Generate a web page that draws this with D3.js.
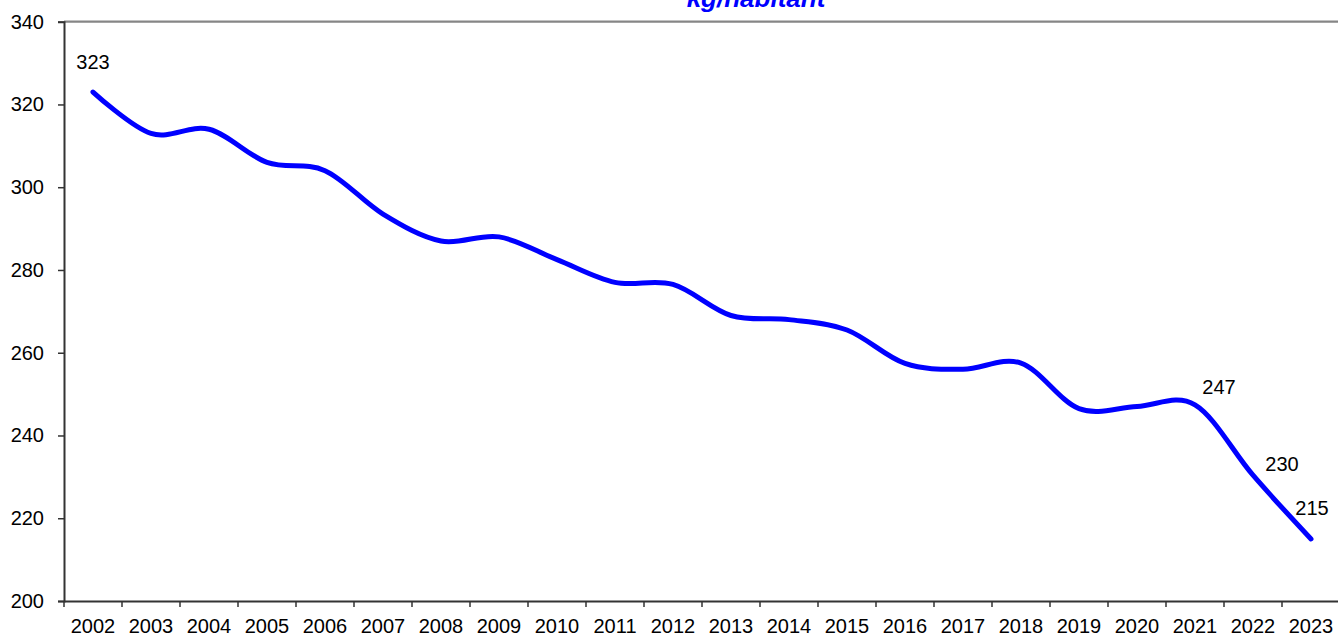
<!DOCTYPE html>
<html>
<head>
<meta charset="utf-8">
<script src="https://cdn.jsdelivr.net/npm/d3@7"></script>
<style>
  html, body { margin: 0; padding: 0; background: #fff; }
  svg { display: block; }
</style>
</head>
<body>
<svg id="chart" width="1338" height="634"></svg>
<script>
const years = ["2002","2003","2004","2005","2006","2007","2008","2009","2010","2011","2012","2013","2014","2015","2016","2017","2018","2019","2020","2021","2022","2023"];
const values = [323, 313, 314, 306, 304, 293.5, 287, 288, 282.5, 277, 276.5, 269, 268, 265.5, 257.4, 256, 257.5, 246.5, 247, 247.4, 230.4, 215];
const yTicks = [200, 220, 240, 260, 280, 300, 320, 340];
const labelledYears = ["2002", "2021", "2022", "2023"];
const title = "kg/habitant";

(function () {
const svg = d3.select("#chart");
const W = 1338, H = 634;
const mLeft = 64, mRight = 1340, mTop = 21.7, mBottom = 601;
const font = "Liberation Sans, Arial, sans-serif";

const x = d3.scaleBand().domain(years).range([mLeft, mRight]).padding(0);
const y = d3.scaleLinear().domain([200, 340]).range([mBottom, mTop]);

svg.append("rect").attr("width", W).attr("height", H).attr("fill", "#fff");

// top border
svg.append("line")
  .attr("x1", mLeft).attr("x2", W).attr("y1", mTop).attr("y2", mTop)
  .attr("stroke", "#868686").attr("stroke-width", 2.2);

// Y axis
const yAxis = svg.append("g").attr("transform", `translate(${mLeft},0)`)
  .call(d3.axisLeft(y).tickValues(yTicks).tickSize(6).tickPadding(14).tickFormat(d3.format("d")));
yAxis.select(".domain").attr("stroke", "#333").attr("stroke-width", 2);
yAxis.selectAll(".tick line").attr("stroke", "#333").attr("stroke-width", 1.5);
yAxis.selectAll(".tick text").attr("font-family", font).attr("font-size", 20).attr("fill", "#000");

// X axis
const xAxis = svg.append("g").attr("transform", `translate(0,${mBottom})`)
  .call(d3.axisBottom(x).tickSize(0).tickPadding(0).tickSizeOuter(0));
xAxis.select(".domain").attr("stroke", "#333").attr("stroke-width", 2);
xAxis.selectAll(".tick text").attr("font-family", font).attr("font-size", 20).attr("fill", "#000")
  .attr("dy", null).attr("y", 32);
// ticks between categories
xAxis.selectAll(".bt").data(years.concat(["end"])).enter().append("line")
  .attr("class", "bt")
  .attr("x1", (d, i) => mLeft + i * x.bandwidth())
  .attr("x2", (d, i) => mLeft + i * x.bandwidth())
  .attr("y1", 0).attr("y2", 6)
  .attr("stroke", "#333").attr("stroke-width", 1.5);

// line
const pts = years.map((yr, i) => ({ yr, v: values[i] }));
const line = d3.line()
  .x(d => x(d.yr) + x.bandwidth() / 2)
  .y(d => y(d.v))
  .curve(d3.curveCatmullRom.alpha(0));
svg.append("path").datum(pts)
  .attr("d", line)
  .attr("fill", "none")
  .attr("stroke", "#0000FF")
  .attr("stroke-width", 5)
  .attr("stroke-linecap", "round")
  .attr("stroke-linejoin", "round");

// data labels (manual offsets, as in the original)
const labelOffsets = { "2002": [0, -23], "2021": [24, -11], "2022": [29, -4], "2023": [1, -24] };
svg.selectAll(".dl").data(pts.filter(p => labelledYears.includes(p.yr))).enter().append("text")
  .attr("class", "dl")
  .attr("x", d => x(d.yr) + x.bandwidth() / 2 + labelOffsets[d.yr][0])
  .attr("y", d => y(d.v) + labelOffsets[d.yr][1])
  .attr("text-anchor", "middle")
  .attr("font-family", font).attr("font-size", 20).attr("fill", "#000")
  .text(d => Math.round(d.v));

// title (cut off at top)
svg.append("text")
  .attr("x", 756).attr("y", 7)
  .attr("text-anchor", "middle")
  .attr("font-family", font).attr("font-size", 26)
  .attr("font-weight", "bold").attr("font-style", "italic")
  .attr("fill", "#0000FF")
  .text(title);
})();
</script>
</body>
</html>
